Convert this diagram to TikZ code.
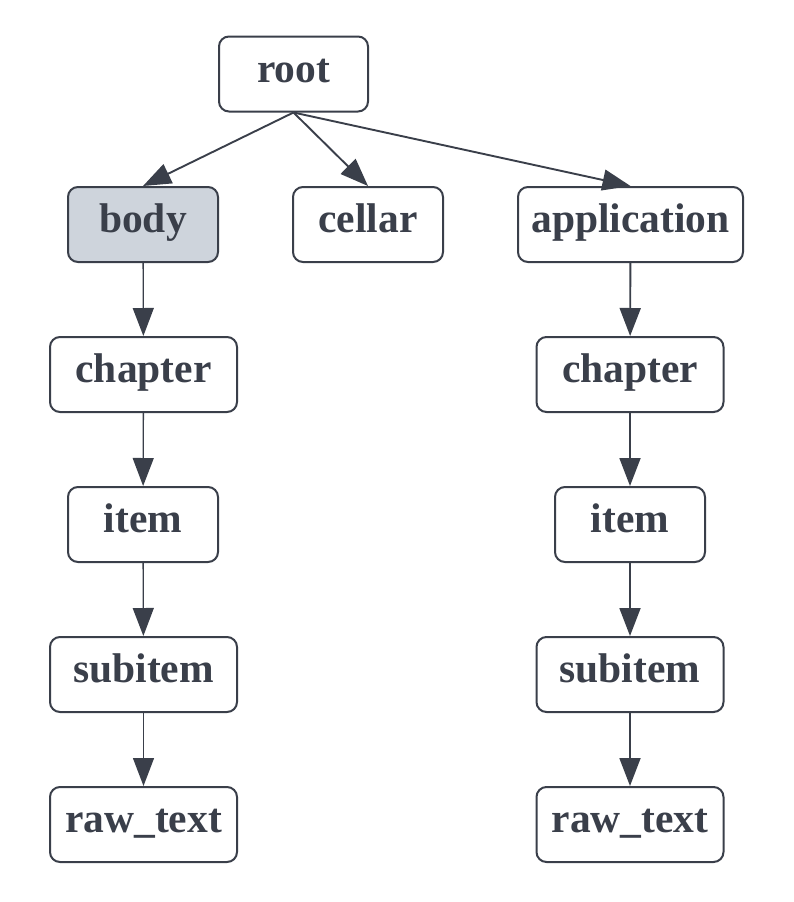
\documentclass[tikz,border=0pt]{standalone}
\usepackage{fontspec}
\setmainfont{Liberation Serif}
\usetikzlibrary{arrows.meta}
\definecolor{ink}{HTML}{3A3F4A}
\definecolor{shade}{HTML}{CED4DC}
\tikzset{
  box/.style={draw=ink, line width=2pt, rounded corners=10pt, fill=white,
    minimum height=75pt, inner sep=0pt, text=ink, text height=26pt, text depth=10pt,
    font=\fontsize{41.5}{48}\selectfont\bfseries},
  link/.style={draw=ink, line width=1.9pt, -{Triangle[length=28pt,width=21pt]}},
  thinlink/.style={link, line width=1.3pt}
}
\begin{document}
\begin{tikzpicture}[x=1pt,y=-1pt]
\useasboundingbox (0,0) rectangle (793,902);
\node[box, minimum width=149pt] (root) at (293.5,74) {root};
\node[box, minimum width=150pt, fill=shade] (body) at (143,224.5) {body};
\node[box, minimum width=150pt] (cellar) at (368,224.5) {cellar};
\node[box, minimum width=225pt] (app) at (630.5,224.5) {application};
\node[box, minimum width=187pt] (lch) at (143.5,374.5) {chapter};
\node[box, minimum width=150pt] (lit) at (143,524.5) {item};
\node[box, minimum width=187pt] (lsub) at (143.5,674.5) {subitem};
\node[box, minimum width=187pt] (lraw) at (143.5,824.5) {raw\_text};
\node[box, minimum width=187pt] (rch) at (630,374.5) {chapter};
\node[box, minimum width=150pt] (rit) at (630,524.5) {item};
\node[box, minimum width=187pt] (rsub) at (630,674.5) {subitem};
\node[box, minimum width=187pt] (rraw) at (630,824.5) {raw\_text};
\draw[link] (root.south) -- (body.north);
\draw[link] (root.south) -- (cellar.north);
\draw[link] (root.south) -- (app.north);
\draw[thinlink] (body) -- (lch);
\draw[thinlink] (lch) -- (lit);
\draw[thinlink] (lit) -- (lsub);
\draw[thinlink] (lsub) -- (lraw);
\draw[link] (app) -- (rch);
\draw[link] (rch) -- (rit);
\draw[link] (rit) -- (rsub);
\draw[link] (rsub) -- (rraw);
\end{tikzpicture}
\end{document}
